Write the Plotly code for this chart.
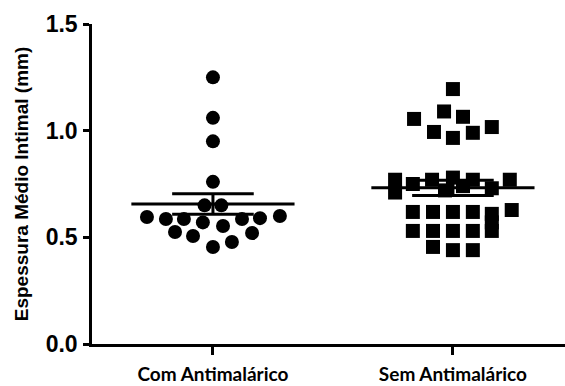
import numpy as np
import plotly.graph_objects as go

categories = ["Com Antimalárico", "Sem Antimalárico"]

# Group 1: Com Antimalárico (circles)
com_values = [1.25, 1.06, 0.95, 0.76, 0.65, 0.65, 0.595, 0.586, 0.586, 0.57,
              0.553, 0.586, 0.59, 0.60, 0.525, 0.506, 0.52, 0.478, 0.455]
com_jitter = [0.0, 0.0, 0.0, 0.0, -0.035, 0.035, -0.275, -0.196, -0.121, -0.042,
              0.042, 0.121, 0.196, 0.279, -0.158, -0.083, 0.163, 0.079, 0.0]

# Group 2: Sem Antimalárico (squares)
sem_values = [1.195, 1.09, 1.055, 1.065, 0.994, 0.966, 0.99, 1.017,
              0.77, 0.71, 0.75, 0.77, 0.72, 0.78, 0.74, 0.77, 0.73, 0.77,
              0.619, 0.619, 0.619, 0.619, 0.61, 0.628,
              0.53, 0.53, 0.53, 0.53, 0.53, 0.57,
              0.455, 0.44, 0.44]
sem_jitter = [0.0, -0.037, -0.162, 0.042, -0.079, 0.0, 0.083, 0.162,
              -0.241, -0.241, -0.167, -0.087, -0.033, 0.0, 0.042, 0.083, 0.162, 0.237,
              -0.167, -0.083, 0.0, 0.083, 0.162, 0.245,
              -0.167, -0.083, 0.0, 0.083, 0.162, 0.162,
              -0.083, 0.0, 0.083]

yticks = [0.0, 0.5, 1.0, 1.5]

groups = [(com_values, com_jitter, "circle", 14), (sem_values, sem_jitter, "square", 14)]

fig = go.Figure()
for i, (vals, jit, sym, sz) in enumerate(groups):
    fig.add_trace(go.Scatter(
        x=[i + j for j in jit], y=vals, mode="markers",
        marker=dict(symbol=sym, size=sz, color="black", line=dict(width=0)),
        showlegend=False, hoverinfo="y"))

for i, (vals, jit, sym, sz) in enumerate(groups):
    v = np.array(vals)
    m = v.mean()
    se = v.std(ddof=1) / np.sqrt(len(v))
    line = dict(color="black", width=3)
    fig.add_trace(go.Scatter(x=[i - 0.34, i + 0.34], y=[m, m], mode="lines",
                             line=line, showlegend=False, hoverinfo="skip"))
    for yy in (m + se, m - se):
        fig.add_trace(go.Scatter(x=[i - 0.17, i + 0.17], y=[yy, yy], mode="lines",
                                 line=line, showlegend=False, hoverinfo="skip"))
    fig.add_trace(go.Scatter(x=[i, i], y=[m - se, m + se], mode="lines",
                             line=line, showlegend=False, hoverinfo="skip"))

fig.update_layout(
    width=565, height=386,
    margin=dict(l=92, r=0, t=24, b=42),
    plot_bgcolor="white", paper_bgcolor="white",
    font=dict(family="Liberation Sans, Arial", color="black"),
)
fig.update_xaxes(
    range=[-0.504, 1.467], tickvals=[0, 1], ticktext=categories,
    showline=True, linecolor="black", linewidth=2.5,
    ticks="outside", ticklen=8, tickwidth=2.5, tickcolor="black",
    showgrid=False, zeroline=False,
    tickfont=dict(family="Lato", size=19, color="black", weight="bold"),
    ticklabelstandoff=3,
)
fig.update_yaxes(
    range=[0, 1.5], tickvals=yticks, ticktext=[f"<b>{t:.1f}</b>" for t in yticks],
    showline=True, linecolor="black", linewidth=2.5,
    ticks="outside", ticklen=6, tickwidth=2.5, tickcolor="black",
    showgrid=False, zeroline=False,
    tickfont=dict(family="Liberation Sans, Arial", size=23, color="black"),
    ticklabelstandoff=1,
    title=dict(text="<b>Espessura Médio Intimal (mm)</b>",
               font=dict(family="Liberation Sans, Arial", size=19, color="black"),
               standoff=13),
)

fig.write_html("out.html")
